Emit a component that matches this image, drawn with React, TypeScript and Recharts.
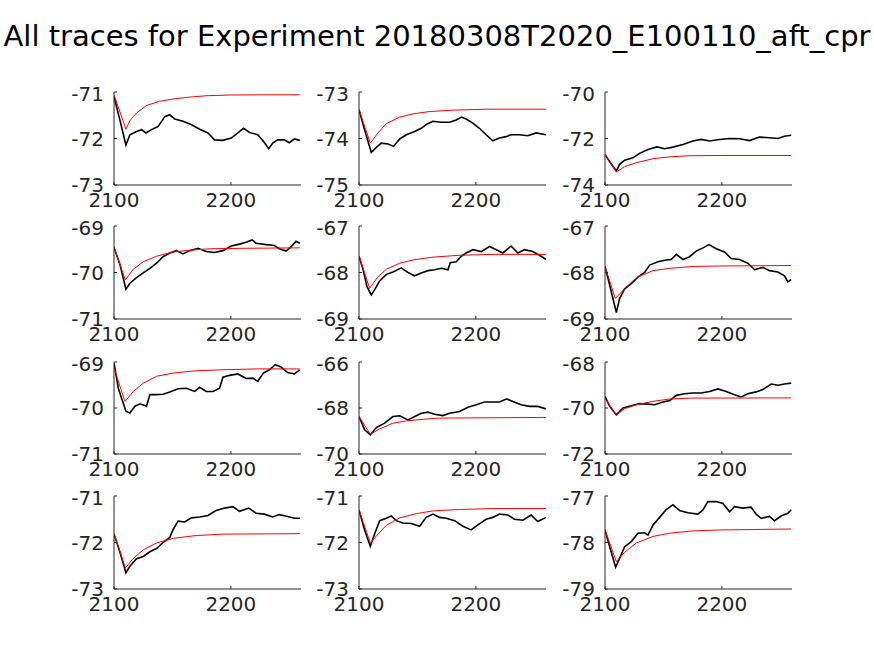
import React from 'react';
import { LineChart, Line, XAxis, YAxis } from 'recharts';

const title = 'All traces for Experiment 20180308T2020_E100110_aft_cpr';
const xTicks = [2100, 2200];
const xDomain: [number, number] = [2100, 2260];

// Panel 1
const tr1 = [[2100,-71.1],[2101,-71.2],[2105,-71.6],[2110.2,-72.14],[2113.6,-71.92],[2119.3,-71.85],[2123.6,-71.81],[2127.3,-71.88],[2132,-71.81],[2137.8,-71.74],[2143.5,-71.53],[2147.7,-71.49],[2152,-71.58],[2159,-71.63],[2166,-71.7],[2173.3,-71.8],[2180.4,-71.88],[2186,-72.03],[2193,-72.04],[2200.3,-71.99],[2206,-71.88],[2210.8,-71.78],[2216,-71.87],[2223,-71.92],[2227.8,-72.06],[2232.4,-72.22],[2235.8,-72.1],[2240,-72.03],[2245.7,-72.03],[2250,-72.09],[2254.3,-72.01],[2259,-72.04]];
const fit1 = [[2100,-71.06],[2110.2,-71.8],[2114,-71.6],[2119.3,-71.45],[2127.8,-71.29],[2139,-71.2],[2150.6,-71.15],[2164.8,-71.11],[2179,-71.08],[2198.9,-71.065],[2230,-71.06],[2259,-71.06]];
const yd1 = [-73, -71];
const yt1 = [-73, -72, -71];

// Panel 2
const tr2 = [[2100,-73.38],[2104.8,-73.81],[2110.5,-74.3],[2114.8,-74.19],[2119,-74.1],[2124.8,-74.12],[2129.6,-74.17],[2134.8,-74.01],[2140.5,-73.92],[2147.6,-73.85],[2153.3,-73.78],[2157.5,-73.7],[2163.2,-73.63],[2170.4,-73.65],[2177.5,-73.65],[2183.2,-73.6],[2187.5,-73.54],[2191.7,-73.58],[2197.4,-73.67],[2203,-73.78],[2208.8,-73.92],[2214.5,-74.05],[2220.2,-73.99],[2225.9,-73.96],[2230,-73.92],[2237.3,-73.92],[2244.4,-73.94],[2251.6,-73.88],[2260,-73.92]];
const fit2 = [[2100,-73.38],[2109.7,-74.1],[2116.2,-73.88],[2123.4,-73.68],[2134.8,-73.54],[2146.2,-73.47],[2160.4,-73.42],[2180.3,-73.39],[2208.8,-73.37],[2260,-73.37]];
const yd2 = [-75, -73];
const yt2 = [-75, -74, -73];

// Panel 3
const tr3 = [[2100,-72.69],[2104.6,-73.04],[2109.7,-73.4],[2112.5,-73.11],[2116.8,-72.93],[2123.9,-72.83],[2129.6,-72.64],[2136.8,-72.47],[2144.4,-72.36],[2151,-72.44],[2158.1,-72.37],[2166.7,-72.26],[2175.2,-72.11],[2182.3,-72.04],[2189.5,-72.11],[2198,-72.04],[2206.6,-72.0],[2215.1,-72.01],[2223.6,-72.09],[2232.2,-71.94],[2240.7,-71.97],[2247.9,-72.0],[2253.6,-71.9],[2259.3,-71.86]];
const fit3 = [[2100,-72.69],[2109.7,-73.44],[2116.8,-73.21],[2126.8,-73.04],[2141,-72.87],[2155.3,-72.79],[2172.4,-72.74],[2200,-72.73],[2259.3,-72.73]];
const yd3 = [-74, -70];
const yt3 = [-74, -72, -70];

// Panel 4
const tr4 = [[2100,-69.46],[2105.1,-69.83],[2110.2,-70.36],[2113.6,-70.23],[2119.3,-70.11],[2125,-70.01],[2130.7,-69.91],[2136.4,-69.8],[2142,-69.66],[2147.7,-69.58],[2153.4,-69.53],[2159,-69.6],[2164.8,-69.53],[2171.9,-69.48],[2179,-69.55],[2185.8,-69.57],[2193.2,-69.53],[2200.3,-69.43],[2207.4,-69.39],[2213,-69.35],[2218.2,-69.3],[2221.6,-69.37],[2230,-69.4],[2237.2,-69.42],[2241.5,-69.49],[2247.2,-69.54],[2251.4,-69.45],[2255.7,-69.33],[2259,-69.37]];
const fit4 = [[2100,-69.46],[2109.7,-70.16],[2116.5,-69.93],[2125,-69.77],[2136.4,-69.65],[2150.6,-69.56],[2164.8,-69.52],[2181.8,-69.49],[2207.4,-69.48],[2259,-69.47]];
const yd4 = [-71, -69];
const yt4 = [-71, -70, -69];

// Panel 5
const tr5 = [[2100,-67.65],[2103.4,-67.93],[2106.8,-68.3],[2110.5,-68.48],[2113.4,-68.37],[2117.7,-68.18],[2123.4,-68.04],[2129.1,-67.99],[2136.2,-67.9],[2141.9,-68.0],[2147.6,-68.07],[2153.3,-68.01],[2159,-67.96],[2164.7,-67.94],[2170.4,-67.91],[2176.1,-67.94],[2178.1,-67.79],[2183.2,-67.77],[2187.5,-67.65],[2191.7,-67.58],[2197.4,-67.51],[2204.6,-67.55],[2211.7,-67.44],[2217.4,-67.51],[2223.1,-67.58],[2230.2,-67.43],[2235.9,-67.58],[2241.6,-67.51],[2248.7,-67.55],[2255.8,-67.65],[2260,-67.72]];
const fit5 = [[2100,-67.64],[2109.1,-68.34],[2116.2,-68.09],[2123.4,-67.93],[2134.8,-67.8],[2146.2,-67.73],[2163.2,-67.67],[2186,-67.63],[2214.5,-67.61],[2260,-67.61]];
const yd5 = [-69, -67];
const yt5 = [-69, -68, -67];

// Panel 6
const tr6 = [[2100,-67.87],[2103.4,-68.21],[2106.8,-68.56],[2109.7,-68.86],[2112.5,-68.56],[2116.8,-68.35],[2122.5,-68.24],[2128.2,-68.1],[2133.9,-68.0],[2138.2,-67.84],[2145.3,-67.77],[2152.4,-67.73],[2156.7,-67.72],[2161,-67.61],[2166.7,-67.72],[2172.4,-67.66],[2178,-67.54],[2183.8,-67.47],[2189,-67.4],[2195.2,-67.49],[2202.3,-67.56],[2208,-67.7],[2215.1,-67.72],[2222.2,-67.8],[2228,-67.94],[2235,-67.89],[2240.7,-67.96],[2247.9,-67.99],[2253.6,-68.07],[2256.4,-68.2],[2259.3,-68.15]];
const fit6 = [[2100,-67.87],[2108.8,-68.56],[2116.8,-68.35],[2126.8,-68.11],[2141,-67.96],[2155.3,-67.91],[2175.2,-67.87],[2198,-67.86],[2259.3,-67.85]];
const yd6 = [-69, -67];
const yt6 = [-69, -68, -67];

// Panel 7
const tr7 = [[2100,-69.02],[2103.7,-69.57],[2107.4,-69.86],[2110.2,-70.07],[2113.6,-70.11],[2117.9,-69.96],[2122.2,-69.91],[2127.8,-69.96],[2130.7,-69.71],[2136.4,-69.71],[2142,-69.7],[2147.7,-69.65],[2154.8,-69.58],[2162,-69.57],[2169,-69.64],[2173.3,-69.55],[2179,-69.64],[2184.7,-69.64],[2190.3,-69.57],[2193.2,-69.33],[2198.9,-69.29],[2206,-69.26],[2213,-69.36],[2218.8,-69.35],[2223,-69.42],[2227.8,-69.24],[2233,-69.17],[2238,-69.06],[2242.9,-69.11],[2248.6,-69.23],[2254.3,-69.26],[2259,-69.17]];
const fit7 = [[2100,-69.13],[2109.4,-69.86],[2116.5,-69.64],[2125,-69.46],[2136.4,-69.31],[2150.6,-69.24],[2170.5,-69.19],[2191.8,-69.17],[2221.6,-69.15],[2259,-69.15]];
const yd7 = [-71, -69];
const yt7 = [-71, -70, -69];

// Panel 8
const tr8 = [[2100,-68.37],[2104.8,-68.95],[2109.7,-69.17],[2114.8,-68.85],[2121.9,-68.66],[2129,-68.37],[2134.8,-68.34],[2141.9,-68.52],[2149,-68.34],[2153.3,-68.23],[2159,-68.18],[2164.7,-68.27],[2171.8,-68.33],[2177.5,-68.23],[2186,-68.15],[2193.2,-67.97],[2200.3,-67.86],[2207.4,-67.74],[2214.5,-67.74],[2220.2,-67.74],[2226.5,-67.6],[2231.6,-67.72],[2238.7,-67.86],[2245.9,-67.93],[2253,-67.93],[2260,-68.04]];
const fit8 = [[2100,-68.37],[2109.7,-69.14],[2117.7,-68.91],[2129,-68.66],[2140.5,-68.56],[2154.7,-68.49],[2168.9,-68.44],[2194.6,-68.43],[2260,-68.41]];
const yd8 = [-70, -66];
const yt8 = [-70, -68, -66];

// Panel 9
const tr9 = [[2100,-69.5],[2104,-69.93],[2109.7,-70.3],[2115.4,-70.0],[2122.5,-69.9],[2129.6,-69.81],[2136.8,-69.83],[2142.5,-69.86],[2149.6,-69.74],[2155.3,-69.68],[2161,-69.45],[2168.1,-69.38],[2175.2,-69.35],[2182.3,-69.35],[2189.5,-69.28],[2196.6,-69.17],[2203.7,-69.28],[2210.8,-69.42],[2216.5,-69.52],[2222.2,-69.38],[2229.3,-69.3],[2235,-69.2],[2242.2,-68.96],[2247.9,-69.01],[2253.6,-68.96],[2259.3,-68.92]];
const fit9 = [[2100,-69.57],[2109.7,-70.3],[2116.8,-70.03],[2126.8,-69.86],[2141,-69.71],[2155.3,-69.61],[2173.8,-69.57],[2259.3,-69.56]];
const yd9 = [-72, -68];
const yt9 = [-72, -70, -68];

// Panel 10
const tr10 = [[2100,-71.82],[2105.1,-72.21],[2110.2,-72.65],[2113.6,-72.51],[2119.3,-72.35],[2125,-72.3],[2130.7,-72.2],[2136.4,-72.13],[2142,-72.0],[2147.7,-71.89],[2150.6,-71.72],[2154.8,-71.54],[2160.5,-71.56],[2166.2,-71.47],[2173.3,-71.45],[2180.4,-71.42],[2187.5,-71.31],[2194.6,-71.26],[2201.7,-71.23],[2207.4,-71.33],[2215.3,-71.26],[2221.6,-71.37],[2228.7,-71.39],[2235.8,-71.45],[2241.5,-71.4],[2248.6,-71.44],[2254.3,-71.48],[2259,-71.48]];
const fit10 = [[2100,-71.8],[2109.7,-72.55],[2116.5,-72.34],[2125,-72.16],[2136.4,-72.01],[2150.6,-71.91],[2170.5,-71.85],[2193.2,-71.82],[2259,-71.81]];
const yd10 = [-73, -71];
const yt10 = [-73, -72, -71];

// Panel 11
const tr11 = [[2100,-71.3],[2104.8,-71.73],[2109.7,-72.08],[2113.4,-71.81],[2117.7,-71.53],[2123.4,-71.48],[2127.6,-71.43],[2131.9,-71.53],[2137.6,-71.58],[2144.7,-71.59],[2151.9,-71.65],[2157.5,-71.46],[2163.2,-71.39],[2168.9,-71.46],[2174.6,-71.48],[2181.8,-71.53],[2188.9,-71.65],[2196,-71.73],[2201.7,-71.62],[2208.8,-71.5],[2214.5,-71.46],[2220.2,-71.39],[2227.4,-71.41],[2233,-71.5],[2240.2,-71.52],[2247.3,-71.41],[2253,-71.55],[2260,-71.46]];
const fit11 = [[2100,-71.3],[2109.7,-72.01],[2114.8,-71.86],[2123.4,-71.63],[2134.8,-71.47],[2149,-71.38],[2163.2,-71.32],[2186,-71.29],[2214.5,-71.27],[2260,-71.27]];
const yd11 = [-73, -71];
const yt11 = [-73, -72, -71];

// Panel 12
const tr12 = [[2100,-77.73],[2104,-78.09],[2109.1,-78.53],[2112.5,-78.34],[2116.8,-78.09],[2122.5,-77.98],[2128.2,-77.8],[2133.9,-77.79],[2136.8,-77.84],[2141,-77.63],[2146.7,-77.46],[2152.4,-77.29],[2158.1,-77.19],[2163.8,-77.31],[2170.9,-77.36],[2179.5,-77.39],[2183.8,-77.3],[2188,-77.12],[2195.2,-77.12],[2200.9,-77.16],[2206.6,-77.34],[2210.8,-77.23],[2217.9,-77.26],[2225,-77.24],[2229.3,-77.39],[2233.6,-77.48],[2240.7,-77.44],[2245,-77.53],[2250.7,-77.43],[2256.4,-77.37],[2259.3,-77.3]];
const fit12 = [[2100,-77.73],[2109.7,-78.41],[2116.8,-78.21],[2126.8,-78.01],[2141,-77.87],[2155.3,-77.8],[2175.2,-77.75],[2198,-77.73],[2259.3,-77.71]];
const yd12 = [-79, -77];
const yt12 = [-79, -78, -77];

const panels = [
  { trace: tr1, fit: fit1, domain: yd1, ticks: yt1 },
  { trace: tr2, fit: fit2, domain: yd2, ticks: yt2 },
  { trace: tr3, fit: fit3, domain: yd3, ticks: yt3 },
  { trace: tr4, fit: fit4, domain: yd4, ticks: yt4 },
  { trace: tr5, fit: fit5, domain: yd5, ticks: yt5 },
  { trace: tr6, fit: fit6, domain: yd6, ticks: yt6 },
  { trace: tr7, fit: fit7, domain: yd7, ticks: yt7 },
  { trace: tr8, fit: fit8, domain: yd8, ticks: yt8 },
  { trace: tr9, fit: fit9, domain: yd9, ticks: yt9 },
  { trace: tr10, fit: fit10, domain: yd10, ticks: yt10 },
  { trace: tr11, fit: fit11, domain: yd11, ticks: yt11 },
  { trace: tr12, fit: fit12, domain: yd12, ticks: yt12 },
];

const COL_LEFT = [114, 359, 605];
const ROW_TOP = [92, 226, 362, 496];
const ROW_H = [93, 93, 92, 93];
const PLOT_W = 187;
const ML = 70, MT = 10, MR = 10, MB = 40;
const FONT = 'DejaVu Sans';
const AX = '#262626';

const toRows = (pts: number[][]) => pts.map(([x, y]) => ({ x, y }));

function Panel({ i }: { i: number }) {
  const p = panels[i];
  const c = i % 3;
  const r = Math.floor(i / 3);
  const h = ROW_H[r];
  return (
    <div style={{ position: 'absolute', left: COL_LEFT[c] - ML, top: ROW_TOP[r] - MT }}>
      <LineChart width={ML + PLOT_W + MR} height={MT + h + MB} margin={{ top: MT, right: MR, bottom: 0, left: 0 }}>
        <XAxis
          type="number"
          dataKey="x"
          domain={xDomain}
          ticks={xTicks}
          allowDataOverflow
          height={MB}
          tickSize={-3}
          tickMargin={11}
          stroke={AX}
          tick={{ fill: AX, fontSize: 20, fontFamily: FONT }}
        />
        <YAxis
          type="number"
          domain={p.domain}
          ticks={p.ticks}
          allowDataOverflow
          width={ML}
          tickSize={-3}
          tickMargin={13}
          stroke={AX}
          tick={{ fill: AX, fontSize: 20, fontFamily: FONT }}
        />
        <Line data={toRows(p.trace)} dataKey="y" stroke="#000000" strokeWidth={1.6} dot={false} isAnimationActive={false} />
        <Line data={toRows(p.fit)} dataKey="y" stroke="#ff0000" strokeWidth={1} dot={false} isAnimationActive={false} />
      </LineChart>
    </div>
  );
}

export default function App() {
  return (
    <div style={{ position: 'absolute', left: 0, top: 0, width: 874, height: 656, background: '#ffffff', overflow: 'hidden' }}>
      <svg width={874} height={60} style={{ position: 'absolute', left: 0, top: 0 }}>
        <text x={437} y={46} textAnchor="middle" fontSize={29} fontFamily={FONT} fill="#000000">
          {title}
        </text>
      </svg>
      {panels.map((_, i) => (
        <Panel key={i} i={i} />
      ))}
    </div>
  );
}
